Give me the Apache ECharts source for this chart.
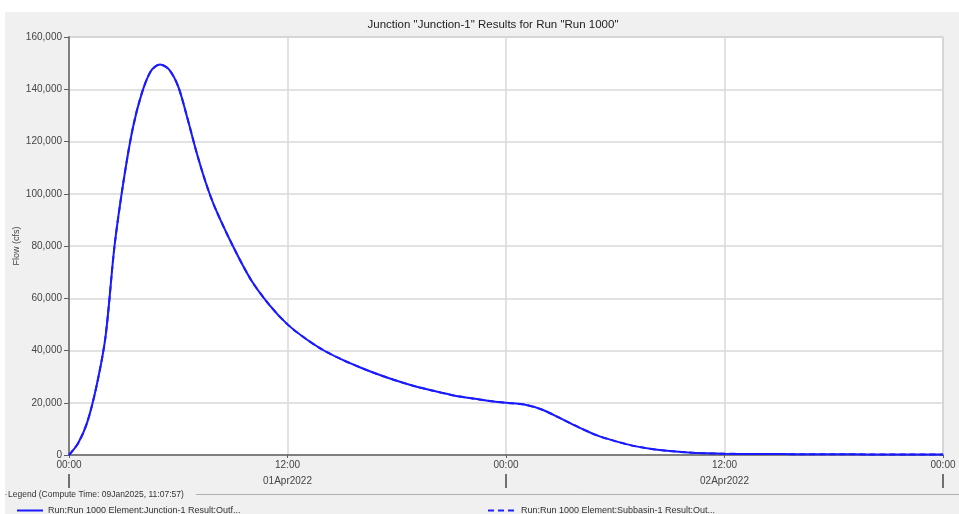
<!DOCTYPE html>
<html>
<head>
<meta charset="utf-8">
<script src="https://cdn.jsdelivr.net/npm/echarts@6/dist/echarts.min.js"></script>
<style>
  html, body { margin: 0; padding: 0; background: #fff; }
  #main { width: 959px; height: 514px; }
</style>
</head>
<body>
<div id="main"></div>
<script>
// hours since 01Apr2022 00:00
const hours = [0, 0.5, 1, 1.5, 2, 2.5, 3, 3.5, 4, 4.5, 5, 5.5, 6, 6.5, 7, 7.5, 8, 9, 10, 11, 12,
  13, 14, 15, 16, 17, 18, 19, 20, 21, 22, 23, 24, 25, 26, 27, 28, 29, 30, 31, 32, 33, 34, 35, 36,
  38, 40, 42, 44, 46, 48]
// flow (cfs)
const flow = [0, 4500, 12500, 26000, 45000, 80000, 105000, 125000, 138500, 147000, 149500, 147500,
  141000, 129000, 116000, 104500, 95000, 80000, 67000, 57500, 50000,
  44500, 40000, 36500, 33500, 30800, 28400, 26300, 24600, 23000, 21800, 20800, 20000, 19300, 17300,
  14000, 10600, 7500, 5300, 3500, 2300, 1500, 950, 650, 480,
  380, 320, 270, 230, 190, 150]
const dayLabels = ['01Apr2022', '02Apr2022']
const seriesNames = [
  'Run:Run 1000 Element:Junction-1 Result:Outf...',
  'Run:Run 1000 Element:Subbasin-1 Result:Out...'
]

const pts = hours.map((h, i) => [h, flow[i]])
const font = 'Liberation Sans, Arial, sans-serif'

const myChart = echarts.init(document.getElementById('main'))

const option = {
  animation: false,
  backgroundColor: '#fff',
  textStyle: { fontFamily: font },
  title: {
    text: 'Junction "Junction-1" Results for Run "Run 1000"',
    left: 488,
    top: 14,
    textAlign: 'center',
    textStyle: { fontSize: 11.5, fontWeight: 'normal', color: '#222', fontFamily: font }
  },
  graphic: [
    { type: 'rect', z: -10, silent: true, shape: { x: 5, y: 12, width: 954, height: 502 }, style: { fill: '#f0f0f0' } },
    { type: 'text', left: 8, top: 490, style: { text: 'Legend (Compute Time: 09Jan2025, 11:07:57)', font: '8.5px ' + font, fill: '#333' } },
    { type: 'line', shape: { x1: 196, y1: 494.5, x2: 959, y2: 494.5 }, style: { stroke: '#b0b0b0', lineWidth: 1 } },
    { type: 'line', shape: { x1: 5, y1: 494.5, x2: 7, y2: 494.5 }, style: { stroke: '#b0b0b0', lineWidth: 1 } }
  ],
  legend: [
    {
      data: [seriesNames[0]], left: 11, top: 501, itemWidth: 26, itemHeight: 10, itemGap: 6,
      itemStyle: { opacity: 0 },
      textStyle: { fontSize: 9, color: '#333', fontFamily: font }
    },
    {
      data: [seriesNames[1]], left: 482, top: 501, itemWidth: 28, itemHeight: 10, itemGap: 6,
      itemStyle: { opacity: 0 },
      textStyle: { fontSize: 9, color: '#333', fontFamily: font }
    }
  ],
  grid: {
    left: 69, right: 16, top: 37, bottom: 59,
    outerBoundsMode: 'none',
    show: true, backgroundColor: '#fff', borderColor: '#a8a8a8', borderWidth: 1
  },
  xAxis: [
    {
      type: 'value', min: 0, max: 48, interval: 12,
      axisLine: { lineStyle: { color: '#808080', width: 2 } },
      axisTick: { length: 3, lineStyle: { color: '#606060' } },
      axisLabel: {
        margin: 5, fontSize: 10, color: '#444',
        formatter: v => (v % 24 === 0 ? '00:00' : '12:00')
      },
      splitLine: { lineStyle: { color: '#d8d8d8', width: 1.5 } }
    },
    {
      type: 'value', min: 0, max: 48, position: 'bottom', offset: 19,
      axisLine: { show: false },
      axisTick: { show: true, customValues: [0, 24, 48], length: 14, lineStyle: { color: '#707070', width: 2 } },
      axisLabel: {
        customValues: [12, 36], margin: 2, fontSize: 10, color: '#444',
        formatter: v => dayLabels[Math.floor(v / 24)]
      },
      splitLine: { show: false }
    }
  ],
  yAxis: {
    type: 'value', min: 0, max: 160000, interval: 20000,
    name: 'Flow (cfs)', nameLocation: 'middle', nameGap: 48, nameMoveOverlap: false,
    nameTextStyle: { fontSize: 9, color: '#444', fontFamily: font },
    axisLine: { show: true, lineStyle: { color: '#808080', width: 2 } },
    axisTick: { show: true, length: 5, lineStyle: { color: '#606060' } },
    axisLabel: {
      fontSize: 10, color: '#444', margin: 7,
      formatter: v => v.toLocaleString('en-US')
    },
    splitLine: { lineStyle: { color: '#d8d8d8', width: 1.5 } }
  },
  series: [
    {
      name: seriesNames[1], type: 'line', data: pts, smooth: 0.3, symbol: 'none',
      lineStyle: { color: '#2020ff', width: 2, type: [6, 4] }, itemStyle: { color: '#2020ff' }
    },
    {
      name: seriesNames[0], type: 'line', data: pts, smooth: 0.3, symbol: 'none', z: 3,
      lineStyle: { color: '#1a1aff', width: 2 }, itemStyle: { color: '#1a1aff' }
    }
  ]
}

myChart.setOption(option)
window.onresize = () => {
  myChart.resize()
}
</script>
</body>
</html>
